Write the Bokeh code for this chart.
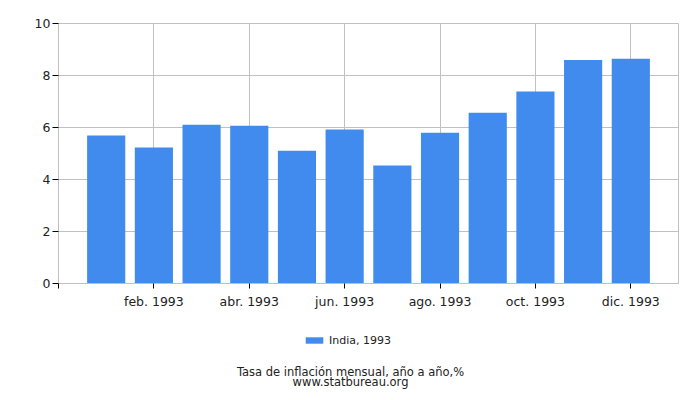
from bokeh.plotting import figure
from bokeh.layouts import column
from bokeh.models import (ColumnDataSource, Legend, LegendItem, Label,
                          FixedTicker, Range1d)
from bokeh.embed import file_html
from bokeh.resources import INLINE

months = ["ene. 1993", "feb. 1993", "mar. 1993", "abr. 1993", "may. 1993", "jun. 1993",
          "jul. 1993", "ago. 1993", "sep. 1993", "oct. 1993", "nov. 1993", "dic. 1993"]
values = [5.69, 5.23, 6.11, 6.07, 5.11, 5.92, 4.54, 5.80, 6.57, 7.38, 8.60, 8.64]
series_name = "India, 1993"
caption = "Tasa de inflación mensual, año a año,%"
source_text = "www.statbureau.org"
y_ticks = [0, 2, 4, 6, 8, 10]

FONT = "DejaVu Sans"
BAR = "#418bee"
GRID = "#c0c0c0"
TXT = "#222222"

positions = [i + 1 for i in range(len(months))]
src = ColumnDataSource(dict(x=positions, top=values, label=months))

p = figure(width=700, height=312, x_range=Range1d(0, len(months) + 1),
           y_range=Range1d(0, 10), output_backend="svg", toolbar_location=None,
           min_border_left=58, min_border_right=22, min_border_top=23,
           min_border_bottom=29)
p.outline_line_color = GRID
p.background_fill_color = "white"
p.border_fill_color = "white"

r = p.vbar(x="x", top="top", width=0.8, bottom=0, source=src,
           fill_color=BAR, line_color=None)

# x axis
x_tick_pos = [0] + positions[1::2]
p.xaxis.ticker = FixedTicker(ticks=x_tick_pos)
overrides = {0: ""}
for pos in positions[1::2]:
    overrides[pos] = months[pos - 1]
p.xaxis.major_label_overrides = overrides
p.xaxis.major_tick_out = 5
p.xaxis.major_tick_in = 0
p.xaxis.minor_tick_out = 0
p.xaxis.minor_tick_in = 0
p.xaxis.axis_line_color = GRID
p.xaxis.major_tick_line_color = "#000000"
p.xaxis.major_label_text_font = FONT
p.xaxis.major_label_text_font_size = "12.5px"
p.xaxis.major_label_text_color = TXT
p.xaxis.major_label_standoff = 5

# y axis
p.yaxis.ticker = FixedTicker(ticks=y_ticks)
p.yaxis.major_tick_out = 6
p.yaxis.major_tick_in = 0
p.yaxis.minor_tick_out = 0
p.yaxis.minor_tick_in = 0
p.yaxis.axis_line_color = GRID
p.yaxis.major_tick_line_color = "#000000"
p.yaxis.major_label_text_font = FONT
p.yaxis.major_label_text_font_size = "12.5px"
p.yaxis.major_label_text_color = TXT
p.yaxis.major_label_standoff = 2

p.xgrid.ticker = FixedTicker(ticks=positions[1::2])
p.xgrid.grid_line_color = GRID
p.ygrid.ticker = FixedTicker(ticks=y_ticks)
p.ygrid.grid_line_color = GRID

# lower panel: legend and captions (page-pixel coordinates; frame aligned with p)
q = figure(width=700, height=88, x_range=Range1d(58, 678), y_range=Range1d(400, 312),
           output_backend="svg", toolbar_location=None,
           min_border_left=58, min_border_right=22, min_border_top=0, min_border_bottom=0)
q.axis.visible = False
q.grid.visible = False
q.outline_line_color = None
q.background_fill_color = "white"
q.border_fill_color = "white"

# legend proxy of the bar series (hidden renderer; only its legend swatch is drawn)
swatch = q.vbar(x="x", top="top", width=0.8, bottom=0, source=src,
                fill_color=BAR, line_color=None, visible=False)
legend = Legend(items=[LegendItem(label=series_name, renderers=[swatch])],
                location=(245, 53), orientation="horizontal",
                glyph_width=22, glyph_height=8, label_standoff=4,
                padding=0, margin=0, border_line_color=None,
                background_fill_alpha=0, label_height=14,
                inactive_fill_alpha=0,
                label_text_font=FONT, label_text_font_size="11px",
                label_text_color=TXT)
q.add_layout(legend, "center")

q.add_layout(Label(x=350, y=371, text=caption,
                   text_align="center", text_baseline="middle", text_font=FONT,
                   text_font_size="11.5px", text_color=TXT))
q.add_layout(Label(x=350, y=381, text=source_text,
                   text_align="center", text_baseline="middle", text_font=FONT,
                   text_font_size="11.5px", text_color=TXT))

layout = column(p, q, spacing=0)
open("out.html", "w").write(file_html(layout, INLINE))
